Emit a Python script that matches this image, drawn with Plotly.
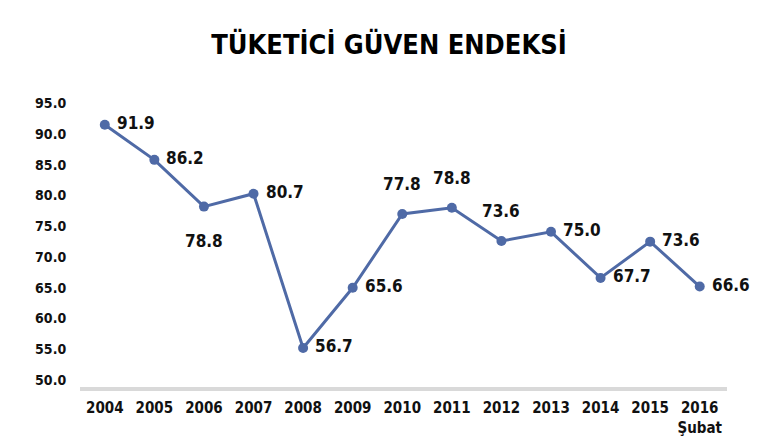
import plotly.graph_objects as go

years = ["2004", "2005", "2006", "2007", "2008", "2009", "2010", "2011", "2012", "2013", "2014", "2015", "2016<br>Şubat"]
plotted = [91.5, 85.8, 78.2, 80.3, 55.2, 65.0, 77.0, 78.0, 72.6, 74.1, 66.6, 72.5, 65.2]
labels = ["91.9", "86.2", "78.8", "80.7", "56.7", "65.6", "77.8", "78.8", "73.6", "75.0", "67.7", "73.6", "66.6"]
label_side = ["right", "right", "below", "right", "right", "right",
              "above", "above", "above", "right", "right", "right", "right"]
y_ticks = [50, 55, 60, 65, 70, 75, 80, 85, 90, 95]

FONT = "DejaVu Sans Condensed, Liberation Sans Narrow, sans-serif"
COLOR = "#4f6aa6"
W, H = 762, 429

x = list(range(len(years)))

fig = go.Figure()
fig.add_trace(go.Scatter(
    x=x, y=plotted, mode="lines+markers",
    line=dict(color=COLOR, width=3),
    marker=dict(color=COLOR, size=10),
    cliponaxis=False, hoverinfo="skip",
))

shift = {"right": dict(xanchor="left", yanchor="middle", xshift=10, yshift=2),
         "above": dict(xanchor="center", yanchor="middle", xshift=0, yshift=30),
         "below": dict(xanchor="center", yanchor="middle", xshift=0, yshift=-34)}
for xi, yi, t, s in zip(x, plotted, labels, label_side):
    fig.add_annotation(x=xi, y=yi, text=f"<b>{t}</b>", showarrow=False,
                       font=dict(family=FONT, size=17, color="#111111"), **shift[s])

fig.update_layout(
    width=W, height=H,
    paper_bgcolor="white", plot_bgcolor="white",
    margin=dict(l=72, r=43, t=83, b=50, autoexpand=False),
    showlegend=False,
    title=dict(text="<b>TÜKETİCİ GÜVEN ENDEKSİ</b>", x=0.5, xanchor="center", y=1 - 37 / H, yanchor="middle",
               yref="container",
               font=dict(family=FONT, size=27, color="#000000")),
)
fig.update_xaxes(
    range=[-0.5, 12.55], tickmode="array", tickvals=x,
    ticktext=[f"<b>{y}</b>" for y in years],
    tickfont=dict(family=FONT, size=15, color="#111111"),
    tickangle=0, automargin=False,
    showgrid=False, zeroline=False,
    showline=True, linecolor="#d9d9d9", linewidth=4,
    ticks="outside", ticklen=4, tickcolor="rgba(0,0,0,0)",
)
fig.update_yaxes(
    range=[48.86, 97], tickmode="array", tickvals=y_ticks,
    ticktext=[f"<b>{v:.1f}</b>" for v in y_ticks],
    tickfont=dict(family=FONT, size=14, color="#111111"),
    automargin=False,
    showgrid=False, zeroline=False, showline=False,
    ticks="outside", ticklen=10, tickcolor="rgba(0,0,0,0)",
)

fig.write_html("out.html")
